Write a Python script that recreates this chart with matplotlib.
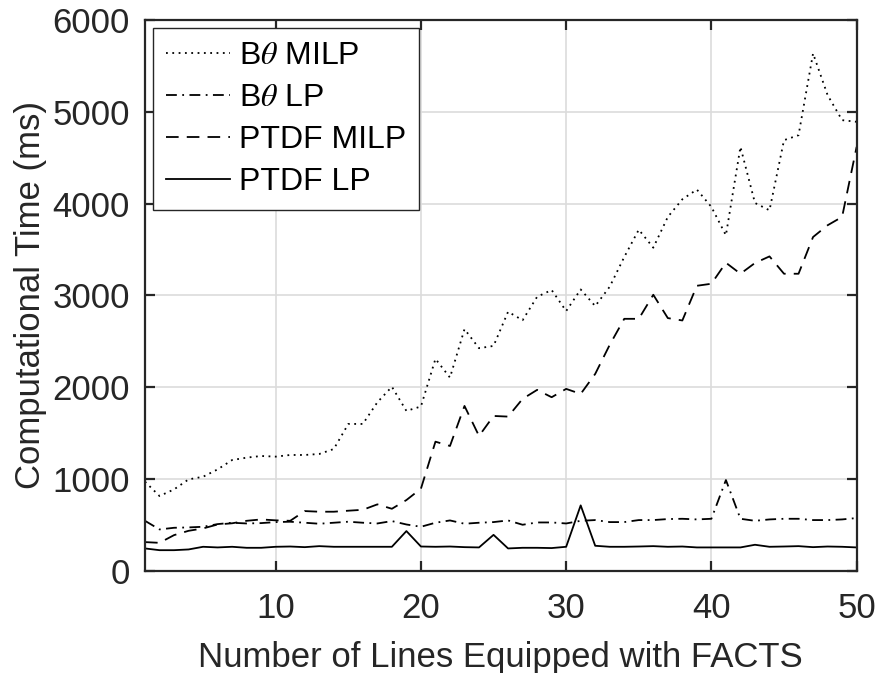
import matplotlib
matplotlib.use("Agg")
import matplotlib.pyplot as plt
import numpy as np

plt.rcParams['font.family'] = ['Liberation Sans', 'DejaVu Sans']
plt.rcParams['mathtext.fontset'] = 'stix'

x = list(range(1, 51))

btheta_milp = [971, 815, 887, 996, 1025, 1105, 1207, 1233, 1251, 1244,
               1262, 1262, 1273, 1327, 1600, 1600, 1836, 2005, 1742, 1790,
               2309, 2105, 2633, 2425, 2450, 2822, 2730, 2985, 3059, 2830,
               3065, 2884, 3095, 3418, 3716, 3520, 3855, 4047, 4153, 3964,
               3655, 4618, 4007, 3927, 4691, 4745, 5636, 5182, 4909, 4891]

btheta_lp = [545, 451, 469, 473, 480, 509, 524, 516, 520, 531,
             535, 524, 513, 524, 535, 524, 516, 542, 505, 480,
             524, 549, 513, 524, 531, 549, 502, 527, 527, 516,
             545, 553, 531, 531, 553, 553, 564, 567, 560, 567,
             989, 567, 545, 560, 567, 567, 553, 553, 560, 575]

ptdf_milp = [313, 305, 389, 436, 462, 505, 518, 545, 560, 550,
             545, 651, 644, 644, 655, 665, 724, 676, 771, 895,
             1407, 1360, 1796, 1469, 1687, 1680, 1873, 1971, 1891, 1982,
             1927, 2145, 2462, 2745, 2745, 3007, 2753, 2727, 3105, 3127,
             3356, 3236, 3353, 3425, 3236, 3236, 3636, 3764, 3855, 4618]

ptdf_lp = [244, 225, 225, 233, 262, 255, 262, 251, 251, 262,
           265, 258, 269, 262, 262, 262, 262, 262, 433, 265,
           262, 265, 258, 255, 392, 244, 251, 251, 248, 262,
           713, 273, 262, 262, 265, 269, 262, 265, 255, 255,
           255, 255, 284, 262, 265, 269, 258, 265, 262, 255]

xticks = [10, 20, 30, 40, 50]
yticks = [0, 1000, 2000, 3000, 4000, 5000, 6000]

fig = plt.figure(figsize=(8.75, 6.73), dpi=100)
ax = fig.add_axes([0.1657, 0.1518, 0.8133, 0.8185])

lw = 1.3
ax.plot(x, btheta_milp, color='black', lw=lw, linestyle=(0, (1, 2.5)), label=r'B$\theta$ MILP')
ax.plot(x, btheta_lp, color='black', lw=lw, linestyle=(0, (6, 3, 1, 3)), label=r'B$\theta$ LP')
ax.plot(x, ptdf_milp, color='black', lw=lw, linestyle=(0, (7, 4.5)), label='PTDF MILP')
ax.plot(x, ptdf_lp, color='black', lw=lw, linestyle='-', label='PTDF LP')

ax.set_xlim(1, 50)
ax.set_ylim(0, 6000)
ax.set_xticks(xticks)
ax.set_yticks(yticks)
ax.grid(True, color='#dcdcdc', linewidth=1.2)
ax.set_axisbelow(True)

tc = '#262626'
for s in ax.spines.values():
    s.set_color(tc)
    s.set_linewidth(1.6)
ax.tick_params(direction='in', length=7, width=1.6, colors=tc, labelsize=25,
               top=True, right=True, labelcolor=tc)
ax.tick_params(axis='x', pad=15)
ax.tick_params(axis='y', pad=11)

ax.set_xlabel('Number of Lines Equipped with FACTS', fontsize=25, color=tc, labelpad=12)
ax.set_ylabel('Computational Time (ms)', fontsize=25, color=tc, labelpad=4)

leg = ax.legend(loc='upper left', fontsize=23, frameon=True, fancybox=False,
                edgecolor=tc, framealpha=1, handlelength=2.0, handletextpad=0.28,
                borderaxespad=0.25, labelspacing=0.38, borderpad=0.4)
leg.get_frame().set_linewidth(1.0)

fig.savefig('out.png', dpi=100)
